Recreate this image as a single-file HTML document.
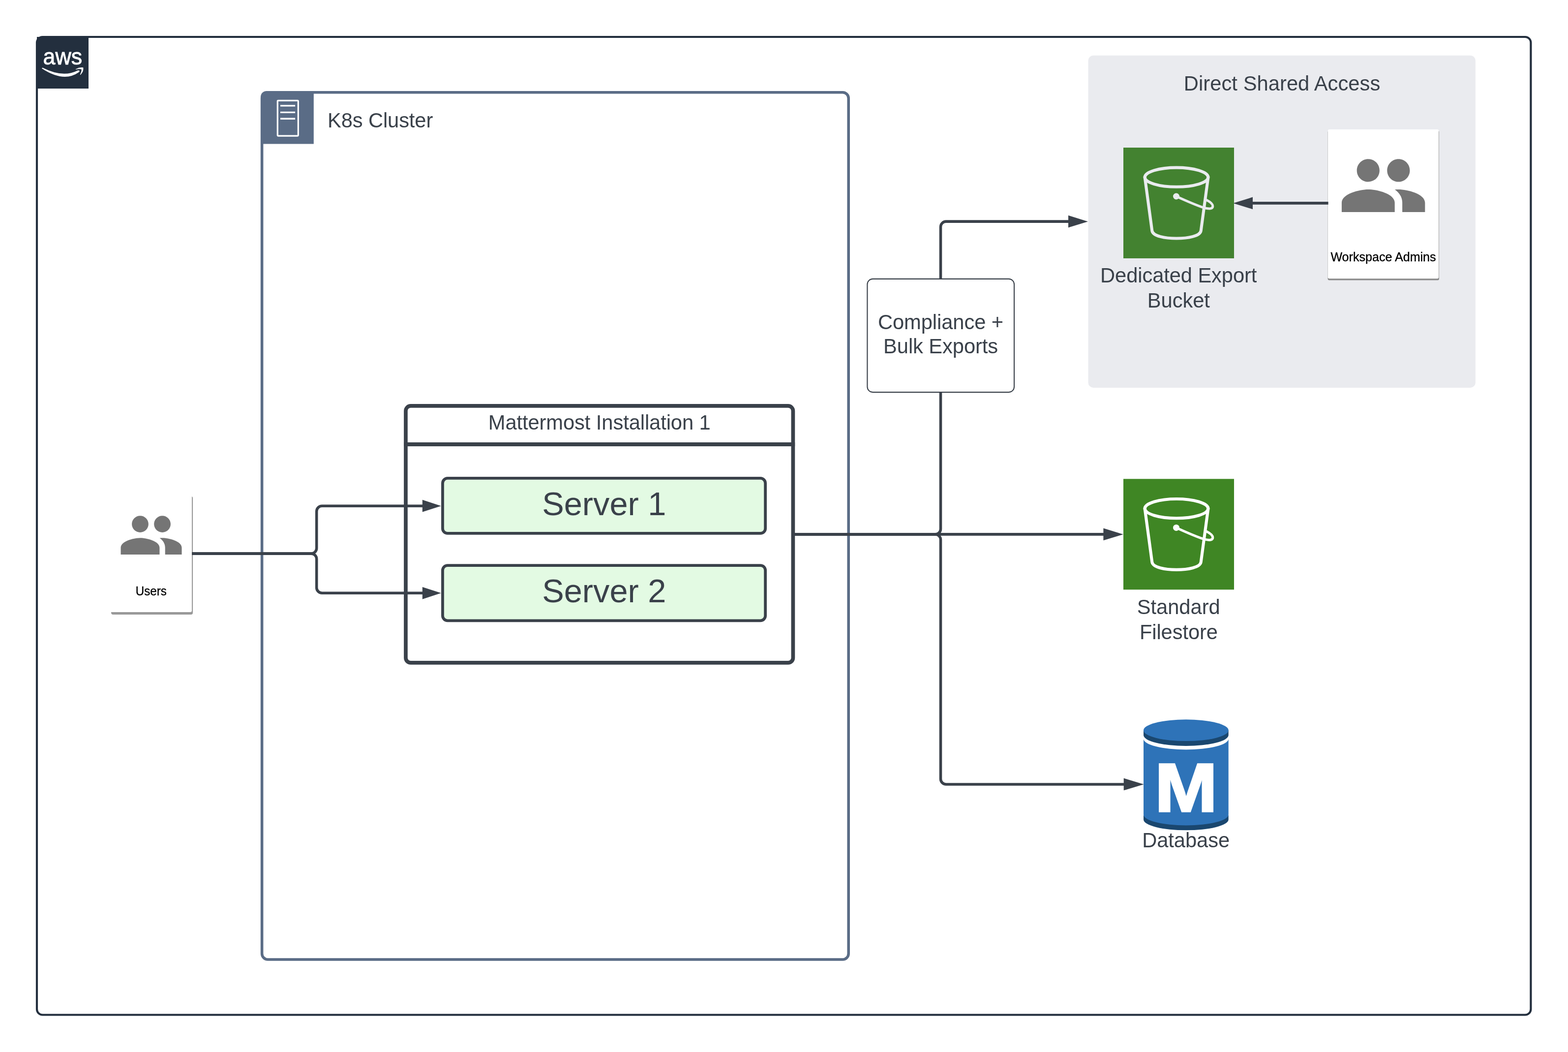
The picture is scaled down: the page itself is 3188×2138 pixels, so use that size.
<!DOCTYPE html>
<html lang="en">
<head>
<meta charset="utf-8">
<title>Mattermost Cloud Export Architecture</title>
<style>
html,body{margin:0;padding:0;background:#fff;}
body{width:3188px;height:2138px;overflow:hidden;}
svg{display:block;will-change:transform;}
text{font-family:"Liberation Sans",sans-serif;}
.t{fill:#3a414a;font-size:41.67px;text-anchor:middle;}
.ts{fill:#3a414a;font-size:66.67px;text-anchor:middle;}
.tl{fill:#000;font-size:25px;text-anchor:middle;stroke:#000;stroke-width:0.35px;}
.ln{fill:none;stroke:#3a414a;stroke-width:5.56;}
.ah{fill:#3a414a;stroke:none;}
</style>
</head>
<body>
<svg width="3188" height="2138" viewBox="0 0 3188 2138">
<rect x="0" y="0" width="3188" height="2138" fill="#ffffff"/>

<!-- AWS cloud group -->
<g id="aws-group">
  <rect x="75" y="75" width="3037.4" height="1987.5" rx="11.5" ry="11.5" fill="none" stroke="#232f3e" stroke-width="4.17"/>
  <rect x="75" y="75" width="105" height="105" fill="#232f3e"/>
  <text x="87.6" y="131.2" fill="#ffffff" font-size="46.5" textLength="79.6" lengthAdjust="spacingAndGlyphs" stroke="#ffffff" stroke-width="0.9">aws</text>
  <path d="M85.3,139.3 Q130,168.4 160.3,146.8 Q162.6,145 161.2,143.6 Q159.8,142.5 157.3,143.5 Q128,158.6 87,137.8 Q84.8,137.2 85.3,139.3 Z" fill="#ffffff"/>
  <path d="M154,140.5 Q162,136 169.3,137.3 Q170.5,145 163.8,152 Q162.5,152.5 163,151 Q166.5,144 165.5,140.8 Q161,139.5 154.5,141.3 Q153.3,141.2 154,140.5 Z" fill="#ffffff"/>
</g>

<!-- K8s cluster group -->
<g id="k8s-group">
  <rect x="532.6" y="187.75" width="1192.6" height="1762.25" rx="12" ry="12" fill="none" stroke="#5a6c86" stroke-width="5.56"/>
  <path d="M530,292.6 V198.5 Q530,185 543.5,185 H637.8 V292.6 Z" fill="#5a6c86"/>
  <rect x="564.3" y="204.3" width="42" height="71.8" rx="1.5" fill="none" stroke="#ffffff" stroke-width="3.2"/>
  <path d="M570,214.9 H600.1 M570,228.4 H600.1 M570,241.2 H600.1" stroke="#ffffff" stroke-width="3.4" fill="none"/>
  <text x="773.1" y="258.5" class="t" style="letter-spacing:-0.107px">K8s Cluster</text>
</g>

<!-- Direct Shared Access -->
<g id="shared-access">
  <rect x="2212.5" y="112.65" width="787.4" height="675.3" rx="10.5" ry="10.5" fill="#eaebef"/>
  <text x="2606.6" y="183.7" class="t" style="letter-spacing:0.065px">Direct Shared Access</text>
</g>

<!-- Users card -->
<g id="users">
  <rect x="226" y="1008.7" width="166.1" height="240.2" rx="4" fill="#999999"/>
  <rect x="224" y="1005" width="166" height="239" rx="3" fill="#ffffff"/>
  <g transform="translate(239.9,1020) scale(5.636)" fill="#757575">
    <path d="M16 11c1.66 0 2.99-1.34 2.99-3S17.66 5 16 5c-1.66 0-3 1.34-3 3s1.34 3 3 3zm-8 0c1.66 0 2.99-1.34 2.99-3S9.66 5 8 5C6.34 5 5 6.34 5 8s1.34 3 3 3zm0 2c-2.33 0-7 1.17-7 3.5V19h14v-2.5c0-2.33-4.67-3.5-7-3.5zm8 0c-.29 0-.62.02-.97.05 1.16.84 1.97 1.97 1.97 3.45V19h6v-2.5c0-2.33-4.67-3.5-7-3.5z"/>
  </g>
  <text x="307.3" y="1209.8" class="tl" textLength="63" lengthAdjust="spacingAndGlyphs">Users</text>
</g>

<!-- Workspace admins card -->
<g id="admins">
  <rect x="2699.6" y="265.5" width="226.4" height="304" rx="3" fill="#8a8a8a"/>
  <rect x="2699.9" y="262.9" width="225.3" height="303.4" rx="3" fill="#ffffff"/>
  <g transform="translate(2720.2,284.8) scale(7.7)" fill="#757575">
    <path d="M16 11c1.66 0 2.99-1.34 2.99-3S17.66 5 16 5c-1.66 0-3 1.34-3 3s1.34 3 3 3zm-8 0c1.66 0 2.99-1.34 2.99-3S9.66 5 8 5C6.34 5 5 6.34 5 8s1.34 3 3 3zm0 2c-2.33 0-7 1.17-7 3.5V19h14v-2.5c0-2.33-4.67-3.5-7-3.5zm8 0c-.29 0-.62.02-.97.05 1.16.84 1.97 1.97 1.97 3.45V19h6v-2.5c0-2.33-4.67-3.5-7-3.5z"/>
  </g>
  <text x="2812.5" y="531.2" class="tl" textLength="214.2" lengthAdjust="spacingAndGlyphs">Workspace Admins</text>
</g>

<!-- connectors -->
<g id="connectors">
  <path class="ln" d="M390.2,1125.1 H632.7 A11,11 0 0 0 643.7,1114.1 V1039.2 A11,11 0 0 1 654.7,1028.2 H862"/>
  <path class="ln" d="M390.2,1125.1 H632.7 A11,11 0 0 1 643.7,1136.1 V1194.3 A11,11 0 0 0 654.7,1205.3 H862"/>
  <path class="ah" d="M896.8,1028.2 L858.8,1040.6 V1015.8 Z"/>
  <path class="ah" d="M896.8,1205.3 L858.8,1217.7 V1192.9 Z"/>

  <path class="ln" d="M1614,1085.9 H2246"/>
  <path class="ah" d="M2283.8,1085.9 L2243.4,1098.3 V1073.5 Z"/>
  <path class="ln" d="M1614,1085.9 H1901.5 A11,11 0 0 0 1912.5,1074.9 V461.15 A11,11 0 0 1 1923.5,450.15 H2175"/>
  <path class="ah" d="M2212,450.15 L2172,462.55 V437.75 Z"/>
  <path class="ln" d="M1614,1085.9 H1901.5 A11,11 0 0 1 1912.5,1096.9 V1583 A11,11 0 0 0 1923.5,1594 H2287"/>
  <path class="ah" d="M2325.6,1593.9 L2284.7,1606.3 V1581.5 Z"/>

  <path class="ln" d="M2700.6,412.9 H2545"/>
  <path class="ah" d="M2507.2,412.9 L2547,400.6 V425.2 Z"/>
</g>

<!-- Compliance box -->
<g id="compliance">
  <rect x="1763.4" y="566.9" width="298.6" height="230.2" rx="11" ry="11" fill="#ffffff" stroke="#3a414a" stroke-width="2.1"/>
  <text x="1912.5" y="668.9" class="t" style="letter-spacing:-0.056px">Compliance +</text>
  <text x="1912.6" y="718.3" class="t" style="letter-spacing:-0.07px">Bulk Exports</text>
</g>

<!-- Mattermost installation -->
<g id="installation">
  <rect x="824.95" y="824.95" width="787.45" height="521.95" rx="10" ry="10" fill="none" stroke="#3a414a" stroke-width="7.7"/>
  <path d="M821.1,903.05 H1616.2" stroke="#3a414a" stroke-width="7.9" fill="none"/>
  <text x="1218.7" y="872.7" class="t" style="letter-spacing:-0.08px">Mattermost Installation 1</text>
  <rect x="899.95" y="971.95" width="656.15" height="112" rx="10" ry="10" fill="#e3fae3" stroke="#3a414a" stroke-width="5.8"/>
  <text x="1228.3" y="1047.4" class="ts">Server 1</text>
  <rect x="899.95" y="1149.1" width="656.15" height="112.2" rx="10" ry="10" fill="#e3fae3" stroke="#3a414a" stroke-width="5.8"/>
  <text x="1228.3" y="1224.4" class="ts">Server 2</text>
</g>



<!-- Dedicated export bucket -->
<g id="bucket1">
  <rect x="2284" y="300" width="225" height="225" fill="#438230"/>
  <g transform="translate(2284,300)" fill="none" stroke="#eaebef" stroke-width="6.1" stroke-linejoin="round" stroke-linecap="round">
    <ellipse cx="108" cy="60.2" rx="64.4" ry="19.6"/>
    <path d="M43.6,60.2 L58.3,169 C60,180 85,184.5 108,184.5 C131,184.5 156,180 157.7,169 L172.4,60.2"/>
    <path d="M107.5,99 C125,107 145,116 163,122 C175,125.5 181.8,124.5 181.8,119 C181.8,114.5 177,110.5 169,106.5" stroke-width="5"/>
    <circle cx="107.5" cy="99" r="4" fill="#eaebef" stroke-width="5"/>
  </g>
  <text x="2396.2" y="574.25" class="t" style="letter-spacing:-0.08px">Dedicated Export</text>
  <text x="2396.3" y="625" class="t" style="letter-spacing:-0.07px">Bucket</text>
</g>

<!-- Standard filestore bucket -->
<g id="bucket2">
  <rect x="2284" y="973.3" width="225" height="225" fill="#3f8624"/>
  <g transform="translate(2284,973.4)" fill="none" stroke="#ffffff" stroke-width="6.1" stroke-linejoin="round" stroke-linecap="round">
    <ellipse cx="108" cy="60.2" rx="64.4" ry="19.6"/>
    <path d="M43.6,60.2 L58.3,169 C60,180 85,184.5 108,184.5 C131,184.5 156,180 157.7,169 L172.4,60.2"/>
    <path d="M107.5,99 C125,107 145,116 163,122 C175,125.5 181.8,124.5 181.8,119 C181.8,114.5 177,110.5 169,106.5" stroke-width="5"/>
    <circle cx="107.5" cy="99" r="4" fill="#ffffff" stroke-width="5"/>
  </g>
  <text x="2396.2" y="1248.4" class="t">Standard</text>
  <text x="2396.4" y="1298.5" class="t" style="letter-spacing:-0.09px">Filestore</text>
</g>

<!-- Database -->
<g id="database">
  <path d="M2325,1657 V1665.4 A86.35,21.9 0 0 0 2497.7,1665.4 V1657 Z" fill="#1a476f"/>
  <path d="M2325,1501.6 A86.35,21.9 0 0 0 2497.7,1501.6 V1655.6 A86.35,21.9 0 0 1 2325,1655.6 Z" fill="#2e73b8"/>
  <path d="M2325,1484.3 V1494.1 A86.35,21.9 0 0 0 2497.7,1494.1 V1484.3 Z" fill="#1a476f"/>
  <ellipse cx="2411.35" cy="1484.2" rx="86.35" ry="21.9" fill="#2e73b8"/>
  <text transform="translate(2411.5,1649.1) scale(1.094,1)" x="0" y="0" fill="#ffffff" stroke="#ffffff" stroke-width="3.5" stroke-linejoin="miter" stroke-miterlimit="10" font-size="140" font-weight="bold" text-anchor="middle">M</text>
  <text x="2411.1" y="1721.5" class="t" style="letter-spacing:-0.06px">Database</text>
</g>
</svg>
</body>
</html>
